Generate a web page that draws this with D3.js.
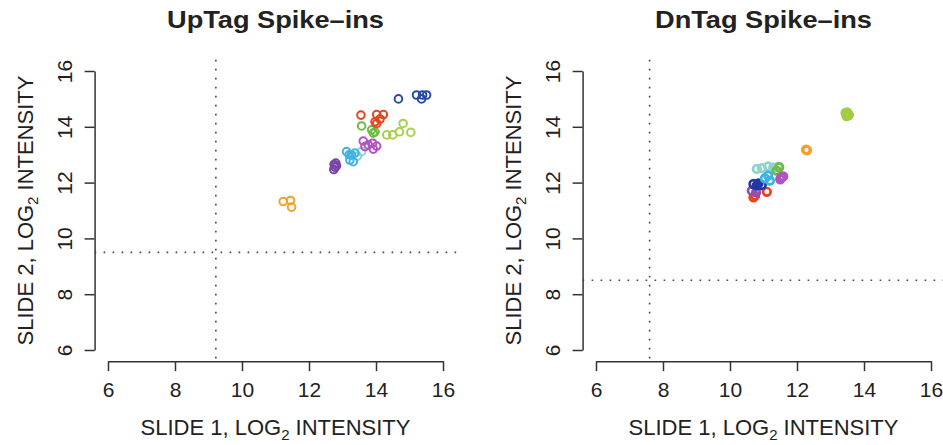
<!DOCTYPE html>
<html>
<head>
<meta charset="utf-8">
<script src="https://cdn.jsdelivr.net/npm/d3@7"></script>
<style>
  body { margin: 0; background: #fff; }
  svg text { font-family: "Liberation Sans", Arial, Helvetica, sans-serif; fill: #222; }
</style>
</head>
<body>
<svg width="943" height="445"></svg>
<script>
// tick values shared by both panels
const ticks = [6, 8, 10, 12, 14, 16];

// UpTag spike-ins, [slide 1, slide 2] log2 intensities by colour group
const upOrange = [[11.23, 11.32], [11.45, 11.36], [11.48, 11.12]];
const upViolet = [[12.75, 12.65], [12.8, 12.7], [12.78, 12.55], [12.74, 12.47], [12.82, 12.6]];
const upCyan = [[13.12, 13.11], [13.27, 12.99], [13.22, 12.81], [13.37, 13.06], [13.32, 12.75], [13.2, 13.0]];
const upTeal = [[13.57, 13.11], [13.45, 12.95]];
const upOrchid = [[13.62, 13.49], [13.77, 13.35], [13.9, 13.41], [14.02, 13.31], [13.92, 13.2], [13.67, 13.29]];
const upRed = [[13.55, 14.42], [14.02, 14.44], [14.22, 14.44], [14.12, 14.28], [13.97, 14.18], [14.02, 14.12]];
const upGreen = [[13.57, 14.03], [13.87, 13.89], [13.92, 13.77], [13.97, 13.82]];
const upLime = [[14.32, 13.71], [14.5, 13.71], [14.7, 13.82], [14.81, 14.12], [15.04, 13.8]];
const upBlue = [[14.67, 15.0], [15.21, 15.14], [15.39, 15.14], [15.51, 15.14], [15.36, 15.0]];

// DnTag spike-ins
const dnLime = [[13.45, 14.5], [13.52, 14.45], [13.48, 14.38], [13.55, 14.42], [13.5, 14.52]];
const dnOrange = [[12.27, 13.18], [12.3, 13.16]];
const dnTeal = [[10.8, 12.49], [10.95, 12.52], [11.14, 12.58], [11.29, 12.54], [11.44, 12.57]];
const dnGreen = [[11.47, 12.55], [11.39, 12.43]];
const dnCyan = [[11.14, 12.25], [11.19, 12.07], [11.04, 12.15]];
const dnOrchid = [[11.54, 12.19], [11.59, 12.22], [11.5, 12.12]];
const dnBlue = [[10.7, 11.95], [10.85, 11.97], [10.95, 11.91], [10.8, 11.9]];
const dnViolet = [[10.65, 11.71], [10.78, 11.65]];
const dnRed = [[10.7, 11.47], [11.1, 11.67], [10.75, 11.53]];

// threshold lines [x, y]
const upCut = [9.22, 9.5];
const dnCut = [7.6, 8.5];

const panels = [
  {
    title: 'UpTag Spike\u2013ins', left: 108, cut: upCut, sw: 2,
    groups: [
      [upOrange, '#f2a12e'], [upViolet, '#7a46a6'], [upTeal, '#8fd3cf'], [upCyan, '#3cb3e3'],
      [upOrchid, '#b253c2'], [upGreen, '#6dbb45'], [upRed, '#e8441f'], [upLime, '#a9d04f'], [upBlue, '#2a4aa8']
    ]
  },
  {
    title: 'DnTag Spike\u2013ins', left: 596, cut: dnCut, sw: 2.7,
    groups: [
      [dnRed, '#e8441f'], [dnViolet, '#8a52b8'], [dnBlue, '#2536a3'], [dnTeal, '#8fd3cf'], [dnGreen, '#6dbb45'],
      [dnCyan, '#3cb3e3'], [dnOrchid, '#b253c2'], [dnOrange, '#f2a12e'], [dnLime, '#a2cc44']
    ]
  }
];

const svg = d3.select('svg');
const axisColor = '#333';

panels.forEach(function (p) {
  const x = d3.scaleLinear().domain([6, 16]).range([p.left, p.left + 335]);
  const y = d3.scaleLinear().domain([6, 16]).range([350, 71]);
  const g = svg.append('g');
  const axLeft = x(5.6);
  const axBottom = y(5.6);

  // title
  g.append('text')
    .attr('x', (x(5.6) + x(16.4)) / 2)
    .attr('y', 28)
    .attr('text-anchor', 'middle')
    .style('font-size', '24px')
    .style('font-weight', 'bold')
    .attr('textLength', 217)
    .attr('lengthAdjust', 'spacingAndGlyphs')
    .text(p.title);

  // x axis
  const xAxis = g.append('g')
    .attr('transform', `translate(0,${axBottom})`)
    .call(d3.axisBottom(x).tickValues(ticks).tickSize(10).tickSizeOuter(0));
  xAxis.select('.domain').attr('stroke', axisColor).attr('stroke-width', 1.5);
  xAxis.selectAll('.tick line').attr('stroke', axisColor).attr('stroke-width', 1.5);
  xAxis.selectAll('.tick text')
    .attr('y', 36).attr('dy', 0)
    .attr('fill', '#222')
    .style('font-size', '21px')
    .style('font-family', '"Liberation Sans", Arial, sans-serif');

  // y axis
  const yAxis = g.append('g')
    .attr('transform', `translate(${axLeft},0)`)
    .call(d3.axisLeft(y).tickValues(ticks).tickSize(10).tickSizeOuter(0));
  yAxis.select('.domain').attr('stroke', axisColor).attr('stroke-width', 1.5);
  yAxis.selectAll('.tick line').attr('stroke', axisColor).attr('stroke-width', 1.5);
  yAxis.selectAll('.tick text')
    .attr('x', 0).attr('y', 0).attr('dy', 0)
    .attr('text-anchor', 'middle')
    .attr('transform', 'translate(-23,0) rotate(-90)')
    .attr('fill', '#222')
    .style('font-size', '21px')
    .style('font-family', '"Liberation Sans", Arial, sans-serif');

  // axis labels
  const xl = g.append('text')
    .attr('x', (x(5.6) + x(16.4)) / 2)
    .attr('y', 435)
    .attr('text-anchor', 'middle')
    .style('font-size', '22px');
  xl.append('tspan').text('SLIDE 1, LOG');
  xl.append('tspan').attr('dy', 5).style('font-size', '15px').text('2');
  xl.append('tspan').attr('dy', -5).text(' INTENSITY');

  const yl = g.append('text')
    .attr('transform', `translate(${axLeft - 62},${(y(5.6) + y(16.4)) / 2}) rotate(-90)`)
    .attr('text-anchor', 'middle')
    .style('font-size', '22px');
  yl.append('tspan').text('SLIDE 2, LOG');
  yl.append('tspan').attr('dy', 5).style('font-size', '15px').text('2');
  yl.append('tspan').attr('dy', -5).text(' INTENSITY');

  // dotted cut-off lines
  const dots = g.append('g')
    .attr('stroke', '#444')
    .attr('stroke-width', 1.6)
    .attr('stroke-dasharray', '1.6,7.4');
  dots.append('line')
    .attr('x1', x(p.cut[0])).attr('x2', x(p.cut[0]))
    .attr('y1', y(16.4)).attr('y2', y(5.6));
  dots.append('line')
    .attr('x1', x(5.6)).attr('x2', x(16.4))
    .attr('y1', y(p.cut[1])).attr('y2', y(p.cut[1]));

  // points
  p.groups.forEach(function ([pts, color]) {
    g.append('g')
      .selectAll('circle')
      .data(pts)
      .enter()
      .append('circle')
        .attr('cx', d => x(d[0]))
        .attr('cy', d => y(d[1]))
        .attr('r', 3.8)
        .attr('fill', 'none')
        .attr('stroke', color)
        .attr('stroke-width', p.sw);
  });
});
</script>
</body>
</html>
